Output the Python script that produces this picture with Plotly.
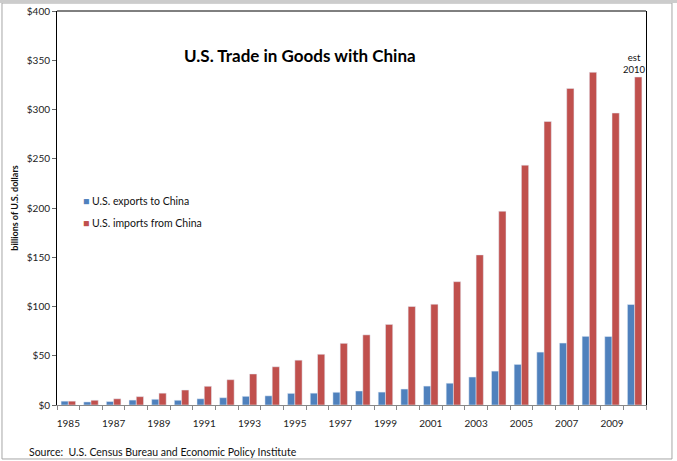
import plotly.graph_objects as go

years = list(range(1985, 2011))
exports = [3.9, 3.1, 3.5, 5.0, 5.8, 4.8, 6.3, 7.4, 8.8, 9.3, 11.8, 12.0, 12.9,
           14.2, 13.1, 16.2, 19.2, 22.1, 28.4, 34.4, 41.2, 53.7, 62.9, 69.7, 69.5, 102.0]
imports = [3.9, 4.8, 6.3, 8.5, 12.0, 15.2, 19.0, 25.7, 31.5, 38.8, 45.5, 51.5, 62.6,
           71.2, 81.8, 100.0, 102.3, 125.2, 152.4, 196.7, 243.5, 287.8, 321.4, 337.8, 296.4, 333.0]
tick_years = list(range(1985, 2010, 2))
boundaries = [y - 0.5 for y in range(1985, 2012)]
series_names = ["U.S. exports to China", "U.S. imports from China"]
series_colors = ["#4F81BD", "#C0504D"]

FONT = "Lato"

fig = go.Figure()
fig.add_trace(go.Bar(x=years, y=exports, name=series_names[0],
                     marker_color=series_colors[0]))
fig.add_trace(go.Bar(x=years, y=imports, name=series_names[1],
                     marker_color=series_colors[1]))

fig.update_layout(
    width=677, height=461,
    margin=dict(l=57, r=31, t=11, b=56, autoexpand=False),
    paper_bgcolor="white", plot_bgcolor="white",
    font=dict(family=FONT, size=10, color="#222"),
    barmode="group", bargap=0.36, bargroupgap=0.0,
    showlegend=False,
)

fig.update_xaxes(
    range=[1984.5, 2010.5], tickmode="array", tickvals=tick_years, automargin=False,
    showline=True, linecolor="#888", linewidth=1, ticks="", showgrid=False,
    zeroline=False, tickfont=dict(size=10, color="#222"), ticklabelstandoff=9,
    minor=dict(tickmode="array", tickvals=boundaries, ticks="outside",
               ticklen=4, tickcolor="#888", showgrid=False),
)
fig.update_yaxes(
    range=[0, 400], dtick=50, tickprefix="$", showgrid=False, zeroline=False,
    automargin=False,
    showline=True, linecolor="black", linewidth=1, mirror=True,
    ticks="outside", ticklen=4, tickcolor="#666", tickfont=dict(size=10, color="#222"),
    title=dict(text="<b>billions of U.S. dollars</b>", font=dict(size=9, color="#111"),
               standoff=6),
)

# top border of plot area
fig.add_shape(type="line", xref="paper", yref="paper", x0=0, x1=1, y0=1, y1=1,
              line=dict(color="black", width=1))
# outer frame
fig.add_shape(type="rect", xref="paper", yref="paper", x0=-0.0934, x1=1.0441,
              y0=-0.137, y1=1.0203, line=dict(color="#a6a6a6", width=1), layer="below")
fig.add_shape(type="rect", xref="paper", yref="paper", x0=-0.1, x1=1.06,
              y0=1.0203, y1=1.03, line=dict(width=0), fillcolor="#cccccc", layer="below")

# legend drawn as text with coloured squares
for i, (name, color) in enumerate(zip(series_names, series_colors)):
    fig.add_annotation(text=f"<span style='color:{color}'>■</span> {name}",
                       xref="paper", yref="paper", x=0.04, y=0.517 - i * 0.056,
                       xanchor="left", yanchor="middle", showarrow=False,
                       font=dict(size=10.5, color="#111"))

fig.add_annotation(text="<b>U.S. Trade in Goods with China</b>", xref="paper", yref="paper",
                   x=0.4126, y=0.888, xanchor="center", yanchor="middle",
                   showarrow=False, font=dict(size=17, color="black"))
fig.add_annotation(text="est<br>2010", xref="x", yref="paper", x=2010, y=0.868,
                   xanchor="center", yanchor="middle",
                   showarrow=False, font=dict(size=9.5, color="#111"))
fig.add_annotation(text="Source:  U.S. Census Bureau and Economic Policy Institute",
                   xref="paper", yref="paper", x=-0.051, y=-0.119, xanchor="left",
                   yanchor="middle", showarrow=False, font=dict(size=10.5, color="#111"))

fig.write_html("out.html", config={"displayModeBar": False},
               post_script="document.body.style.margin='0';")
